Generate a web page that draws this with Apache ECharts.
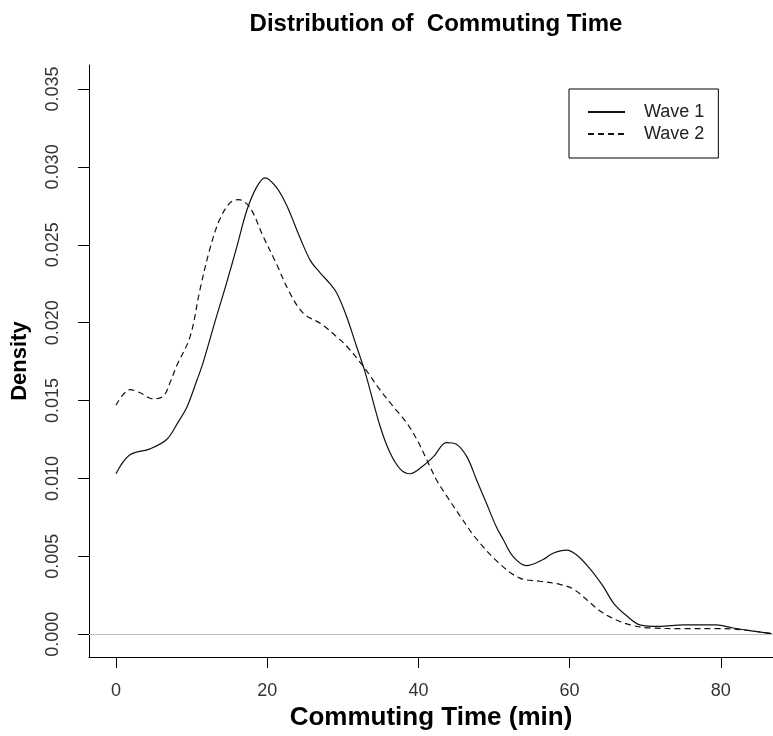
<!DOCTYPE html>
<html>
<head>
<meta charset="utf-8">
<script src="https://cdn.jsdelivr.net/npm/echarts@6/dist/echarts.min.js"></script>
<style>
html,body{margin:0;padding:0;background:#fff;}
#chart{width:773px;height:736px;}
</style>
</head>
<body>
<div id="chart"></div>
<script>
// Commuting time (min) and density
var wave1X = [0, 1.8, 4.5, 6.7, 8.2, 9.4, 10.7, 11.5, 13.3, 14.6, 16.0, 17.3, 18.6, 19.7, 21.2, 22.6, 24.3, 25.7, 27.0, 28.3, 29.2, 30.5, 31.8, 32.9, 34.9, 36.2, 37.6, 38.9, 40.6, 42.0, 43.7, 45.0, 46.4, 47.7, 49.0, 50.3, 51.2, 52.5, 54.3, 56.5, 57.8, 59.6, 60.9, 62.7, 64.4, 65.8, 67.5, 69.3, 71.9, 75.0, 79.4, 81.6, 84.3, 86.7];
var wave1Y = [0.0103, 0.0115, 0.0119, 0.0125, 0.0136, 0.0146, 0.0163, 0.0174, 0.0204, 0.0225, 0.0249, 0.0272, 0.0287, 0.0293, 0.0287, 0.0275, 0.0255, 0.0240, 0.0232, 0.0225, 0.0219, 0.0204, 0.0185, 0.0169, 0.0134, 0.0117, 0.0106, 0.0103, 0.0108, 0.0114, 0.0123, 0.0122, 0.0114, 0.0099, 0.0084, 0.0069, 0.0061, 0.0050, 0.0044, 0.0048, 0.0052, 0.0054, 0.0051, 0.0042, 0.0031, 0.0020, 0.0012, 0.0006, 0.0005, 0.0006, 0.0006, 0.0004, 0.0002, 0.00004];
var wave2X = [0, 1.85, 3.2, 4.9, 6.3, 7.1, 8.0, 9.8, 11.1, 12.4, 13.7, 15.1, 16.2, 17.7, 19.5, 21.2, 23.0, 24.8, 27.2, 29.4, 30.5, 32.7, 34.9, 36.7, 38.4, 39.8, 41.1, 42.4, 43.7, 45.5, 47.7, 50.8, 53.4, 56.1, 58.7, 60.5, 62.3, 64.0, 65.8, 68.0, 70.6, 75.0, 79.4, 82.5, 86.7];
var wave2Y = [0.0147, 0.0157, 0.0155, 0.0151, 0.0153, 0.0161, 0.0172, 0.0191, 0.0221, 0.0247, 0.0266, 0.0277, 0.0279, 0.0274, 0.0255, 0.0238, 0.0219, 0.0206, 0.0199, 0.0190, 0.0185, 0.0172, 0.0157, 0.0146, 0.0136, 0.0125, 0.0112, 0.0099, 0.0089, 0.0076, 0.0061, 0.0045, 0.0036, 0.0034, 0.0032, 0.0029, 0.0022, 0.0015, 0.0010, 0.0006, 0.0004, 0.00036, 0.00036, 0.0003, 0.00004];
var seriesNames = ['Wave 1', 'Wave 2'];
var xTicks = [0, 20, 40, 60, 80];
var yTicks = [0, 0.005, 0.010, 0.015, 0.020, 0.025, 0.030, 0.035];
var titleText = 'Distribution of  Commuting Time';
var xName = 'Commuting Time (min)';
var yName = 'Density';

function pairs(xs, ys) { return xs.map(function (x, i) { return [x, ys[i]]; }); }

var FONT = 'Liberation Sans, Arial, sans-serif';
var chart = echarts.init(document.getElementById('chart'), null, {renderer: 'canvas'});
chart.setOption({
  backgroundColor: '#ffffff',
  animation: false,
  title: {
    text: titleText, left: 431, top: 7, textAlign: 'center',
    textStyle: {fontFamily: FONT, fontSize: 24, fontWeight: 'bold', color: '#000'}
  },
  legend: {
    orient: 'vertical', left: 569, top: 89,
    padding: [14, 14, 15, 18], itemGap: 4,
    borderColor: '#000', borderWidth: 1,
    itemWidth: 37, itemHeight: 14,
    itemStyle: {color: 'rgba(0,0,0,0)', borderColor: 'rgba(0,0,0,0)', borderWidth: 0, opacity: 0},
    textStyle: {fontFamily: FONT, fontSize: 18, color: '#222', padding: [0, 0, 0, 14]},
    data: seriesNames
  },
  grid: {left: 89, right: 0, top: 65, bottom: 78, containLabel: false},
  xAxis: {
    type: 'value', min: -3.57, max: 86.9,
    name: xName, nameLocation: 'middle', nameGap: 47,
    nameTextStyle: {fontFamily: FONT, fontSize: 26, fontWeight: 'bold', color: '#000'},
    axisLine: {show: true, onZero: false, lineStyle: {color: '#000', width: 1}},
    axisTick: {show: true, length: 11, customValues: xTicks, lineStyle: {color: '#000'}},
    axisLabel: {customValues: xTicks, margin: 25, fontFamily: FONT, fontSize: 18, color: '#333'},
    splitLine: {show: false}
  },
  yAxis: {
    type: 'value', min: -0.00147, max: 0.03654,
    name: yName, nameLocation: 'middle', nameGap: 58, nameRotate: 90,
    nameTextStyle: {fontFamily: FONT, fontSize: 22, fontWeight: 'bold', color: '#000'},
    axisLine: {show: true, onZero: false, lineStyle: {color: '#000', width: 1}},
    axisTick: {show: true, length: 11, customValues: yTicks, lineStyle: {color: '#000'}},
    axisLabel: {customValues: yTicks, rotate: 90, margin: 27, fontFamily: FONT, fontSize: 18, color: '#333',
      formatter: function (v) { return v.toFixed(3); }},
    splitLine: {show: false}
  },
  series: [
    {
      name: seriesNames[0], type: 'line', data: pairs(wave1X, wave1Y),
      smooth: 0.35, showSymbol: false, symbol: 'none',
      lineStyle: {color: '#111', width: 1.2, type: 'solid'},
      itemStyle: {color: '#111'},
      markLine: {
        silent: true, symbol: 'none', label: {show: false},
        lineStyle: {color: '#bebebe', width: 1, type: 'solid'},
        data: [{yAxis: 0}]
      },
      z: 3
    },
    {
      name: seriesNames[1], type: 'line', data: pairs(wave2X, wave2Y),
      smooth: 0.35, showSymbol: false, symbol: 'none',
      lineStyle: {color: '#111', width: 1.2, type: [6, 4]},
      itemStyle: {color: '#111'},
      z: 3
    }
  ]
});
</script>
</body>
</html>
